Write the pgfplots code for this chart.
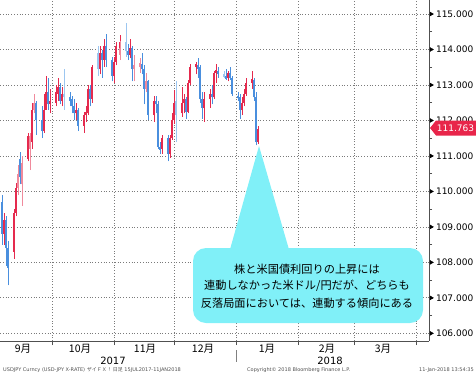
\documentclass[border=0pt]{standalone}
\usepackage{fontspec}
\setmainfont{DejaVu Sans}
\newfontfamily\jp{Noto Sans CJK JP}
\usepackage{pgfplots}
\usepackage{pgfplotstable}
\pgfplotsset{compat=1.18}
\definecolor{cred}{HTML}{E52A4E}
\definecolor{cpink}{HTML}{F08A9C}
\definecolor{cblue}{HTML}{4A8FDE}
\definecolor{clblue}{HTML}{9CC6F0}
\definecolor{callout}{HTML}{80F0F8}
\definecolor{gridc}{HTML}{7A7A7A}
\definecolor{axc}{HTML}{505050}
\definecolor{badge}{HTML}{E8254A}

% x = days since 1 Oct 2017 (+1), o h l c
\pgfplotstableread{
x o h l c
-24 108.80 109.40 108.50 109.20
-19 108.30 109.50 108.10 109.40
-18 109.40 110.25 109.30 110.10
-12 110.90 111.65 110.85 111.55
-10 111.40 112.50 111.20 112.30
-4 111.70 112.75 111.65 112.30
-3 112.30 113.25 112.30 112.80
-1 112.45 112.90 112.20 112.55
2 112.50 113.00 112.40 112.80
3 112.75 113.20 112.55 112.95
5 112.55 112.95 112.40 112.75
12 112.20 112.50 112.00 112.30
16 111.85 112.25 111.65 112.15
17 112.15 112.40 111.95 112.25
18 112.20 113.00 112.15 112.90
20 112.60 113.55 112.50 113.50
24 113.45 114.10 113.30 113.90
26 113.70 114.30 113.50 114.10
31 113.25 113.80 113.05 113.65
32 113.65 114.20 113.55 114.10
34 114.05 114.40 113.80 114.20
39 113.85 114.30 113.75 114.05
51 112.15 112.70 111.95 112.55
55 111.20 111.60 111.05 111.50
59 111.05 111.60 110.95 111.50
60 111.50 112.20 111.45 112.00
61 112.00 112.85 111.90 112.50
65 112.20 112.95 112.10 112.50
66 112.50 112.75 112.20 112.60
68 112.25 113.15 112.20 113.05
69 113.05 113.60 113.00 113.50
72 113.50 113.65 113.30 113.58
76 112.35 112.80 111.95 112.60
79 112.60 112.90 112.35 112.75
81 112.65 113.40 112.60 113.35
82 113.35 113.60 113.05 113.42
88 113.20 113.40 113.10 113.35
95 112.30 112.65 112.15 112.50
96 112.50 112.90 112.40 112.75
97 112.75 113.20 112.70 113.05
100 113.05 113.40 112.90 113.18
103 111.40 111.85 111.35 111.76
}\redtab
\pgfplotstableread{
x o h l c
-17 110.10 110.75 109.90 110.50
-15 110.20 111.00 109.60 110.80
-11 111.20 111.65 110.60 111.55
-9 112.30 112.75 112.20 112.50
34 113.85 114.25 113.70 114.05
41 113.45 113.85 113.10 113.55
44 113.50 113.75 113.35 113.62
47 112.90 113.35 112.80 113.10
}\pinktab
\pgfplotstableread{
x o h l c
-25 109.70 109.90 108.50 108.80
-23 109.20 109.30 107.90 108.40
-22 108.40 108.60 107.35 107.85
-16 110.90 111.10 110.20 110.40
-8 112.50 112.55 111.60 112.00
-5 112.00 112.40 111.50 111.70
-2 112.80 113.20 112.30 112.45
4 112.95 113.05 112.45 112.55
9 112.65 112.80 112.40 112.55
10 112.60 112.70 112.20 112.40
11 112.40 112.60 112.00 112.20
13 112.30 112.35 111.70 111.85
19 112.90 113.00 112.40 112.60
25 113.90 114.00 113.20 113.70
27 114.10 114.45 113.50 113.70
30 113.70 113.80 113.10 113.25
38 113.95 114.15 113.70 113.85
40 114.05 114.10 113.10 113.45
45 113.60 113.90 113.30 113.45
46 113.45 113.55 112.45 112.90
48 113.10 113.15 112.00 112.15
52 112.55 112.70 112.20 112.45
53 112.45 112.55 111.20 111.25
54 111.25 111.40 111.05 111.18
58 111.50 111.60 110.85 111.05
67 112.60 112.65 112.05 112.25
73 113.55 113.75 113.20 113.45
74 113.50 113.55 112.50 112.60
75 112.60 112.80 112.05 112.35
80 112.75 113.00 112.45 112.65
83 113.40 113.50 113.20 113.30
87 113.25 113.45 113.15 113.18
89 113.35 113.50 113.15 113.20
90 113.20 113.25 112.70 112.75
93 112.70 112.80 112.55 112.62
94 112.65 112.75 112.05 112.30
101 113.15 113.20 112.55 112.65
102 112.65 112.80 111.30 111.40
}\bluetab
\pgfplotstableread{
x o h l c
6 112.75 113.45 112.30 112.65
23 113.90 114.10 113.25 113.45
37 114.20 114.75 113.80 113.95
62 112.55 113.10 111.40 112.15
86 113.30 113.40 113.20 113.22
}\lbluetab

\begin{document}
\begin{tikzpicture}
\path[use as bounding box] (0pt,-35pt) rectangle (476pt,341pt);
\begin{axis}[
  at={(0pt,0pt)}, anchor=south west,
  scale only axis, width=429pt, height=341pt,
  xmin=-26, xmax=188.5, ymin=105.784, ymax=115.395,
  axis x line=bottom, axis y line=right,
  axis line style={-, draw=axc, line width=0.8pt},
  xtick={0,31,61,92,123,151,182}, xticklabels={},
  ytick={106,107,...,115}, minor y tick num=1,
  tick align=outside, major tick length=4pt, minor tick length=3pt,
  tick style={draw=axc, line width=0.6pt},
  grid=major,
  major grid style={draw=gridc, line width=0.75pt, dash pattern=on 0.8pt off 2pt},
  yticklabel style={font=\fontsize{9}{10}\selectfont, text=black, xshift=-0.5pt},
  /pgf/number format/.cd, fixed, fixed zerofill, precision=3, 1000 sep={}, assume math mode=true,
  /pgfplots/.cd,
  clip=false,
  error bars/y dir=plus, error bars/y explicit, error bars/error mark=none,
]
% red (up)
\addplot[draw=none, mark=none, error bars/error bar style={draw=cred, line width=0.8pt, solid}]
  table[x=x, y=l, y error expr=\thisrow{h}-\thisrow{l}] {\redtab};
\addplot[draw=none, mark=none, error bars/error bar style={draw=cred, line width=1.9pt, solid}]
  table[x=x, y=o, y error expr=\thisrow{c}-\thisrow{o}] {\redtab};
% pink (up, light)
\addplot[draw=none, mark=none, error bars/error bar style={draw=cpink, line width=0.8pt, solid}]
  table[x=x, y=l, y error expr=\thisrow{h}-\thisrow{l}] {\pinktab};
\addplot[draw=none, mark=none, error bars/error bar style={draw=cpink, line width=1.9pt, solid}]
  table[x=x, y=o, y error expr=\thisrow{c}-\thisrow{o}] {\pinktab};
% blue (down)
\addplot[draw=none, mark=none, error bars/error bar style={draw=cblue, line width=0.8pt, solid}]
  table[x=x, y=l, y error expr=\thisrow{h}-\thisrow{l}] {\bluetab};
\addplot[draw=none, mark=none, error bars/error bar style={draw=cblue, line width=1.9pt, solid}]
  table[x=x, y=c, y error expr=\thisrow{o}-\thisrow{c}] {\bluetab};
% light blue (down, light)
\addplot[draw=none, mark=none, error bars/error bar style={draw=clblue, line width=0.8pt, solid}]
  table[x=x, y=l, y error expr=\thisrow{h}-\thisrow{l}] {\lbluetab};
\addplot[draw=none, mark=none, error bars/error bar style={draw=clblue, line width=1.9pt, solid}]
  table[x=x, y=c, y error expr=\thisrow{o}-\thisrow{c}] {\lbluetab};
% tick arrowheads on the right axis
\addplot[only marks, mark=triangle*, mark size=2.2pt, color=black,
  mark options={xshift=2.2pt, rotate=-90}]
  coordinates {(188.5,106)(188.5,107)(188.5,108)(188.5,109)(188.5,110)(188.5,111)(188.5,112)(188.5,113)(188.5,114)(188.5,115)};
\end{axis}

% callout
\fill[callout] (229pt,88pt) -- (259pt,195pt) -- (290pt,88pt) -- cycle;
\fill[callout, rounded corners=13pt] (193pt,18pt) rectangle (423pt,93pt);
\begin{scope}[every node/.style={font=\jp\fontsize{11.2}{12}\selectfont, inner sep=0pt}]
\node at (307pt,72pt) {株と米国債利回りの上昇には};
\node at (307pt,55pt) {連動しなかった米ドル/円だが、どちらも};
\node at (307pt,38pt) {反落局面においては、連動する傾向にある};
\end{scope}

% current price badge
\fill[badge] (430pt,213pt) -- (436pt,220.5pt) -- (476pt,220.5pt) -- (476pt,205.5pt) -- (436pt,205.5pt) -- cycle;
\node[text=white, font=\fontsize{9}{10}\selectfont, inner sep=0pt] at (455.5pt,213pt) {111.763};

% month labels
\begin{scope}[every node/.style={font=\jp\fontsize{10.5}{11}\selectfont, inner sep=0pt, text=black}]
\node at (23pt,-8pt) {9月};
\node at (80pt,-8pt) {10月};
\node at (145pt,-8pt) {11月};
\node at (203pt,-8pt) {12月};
\node at (267pt,-8pt) {1月};
\node at (327pt,-8pt) {2月};
\node at (383pt,-8pt) {3月};
\end{scope}
\node[font=\fontsize{10}{11}\selectfont, inner sep=0pt] at (113pt,-19.5pt) {2017};
\node[font=\fontsize{10}{11}\selectfont, inner sep=0pt] at (330pt,-19.5pt) {2018};
\draw[gray, line width=0.7pt] (236pt,-9pt) -- (236pt,-21pt);

% footer
\begin{scope}[every node/.style={font=\fontsize{5}{6}\selectfont, inner sep=0pt, text=axc}]
\node[anchor=west] at (3pt,-29.5pt) {USDJPY Curncy (USD-JPY X-RATE) {\jp ザイＦＸ！ 日足} 15JUL2017-11JAN2018};
\node[anchor=west] at (247pt,-29.5pt) {Copyright© 2018 Bloomberg Finance L.P.};
\node[anchor=east] at (474pt,-29.5pt) {11-Jan-2018 13:54:35};
\end{scope}
\end{tikzpicture}
\end{document}
